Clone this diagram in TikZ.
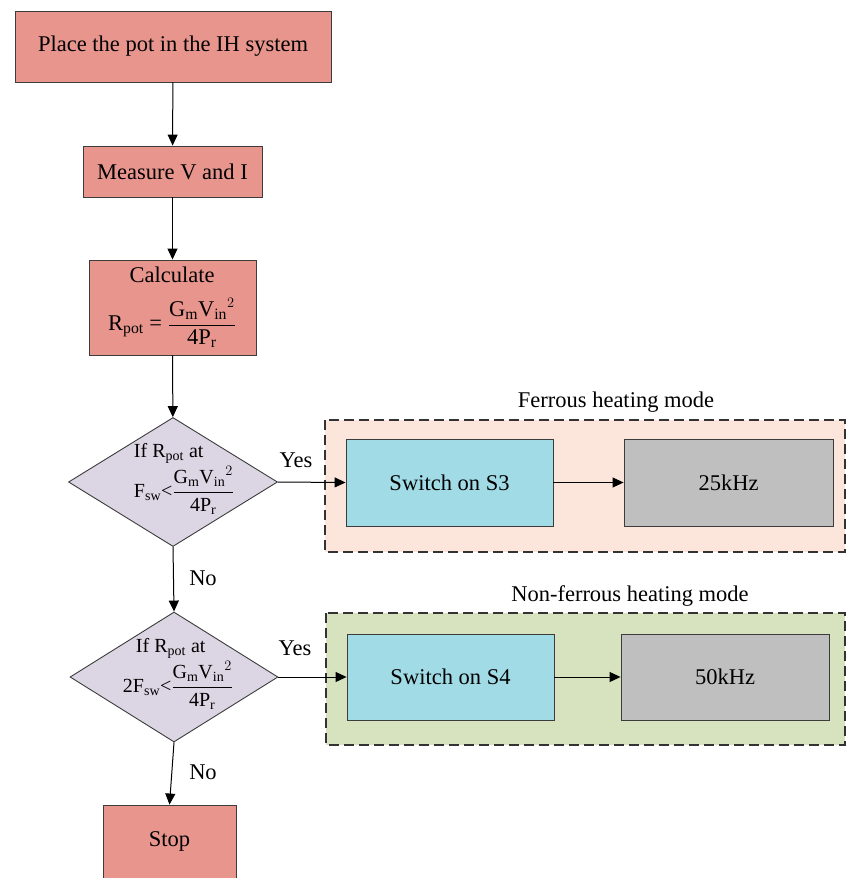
\documentclass[tikz,border=0pt]{standalone}
\usepackage{fontspec}
\setmainfont{Liberation Serif}
\newfontfamily\tnr{Liberation Serif}
\usetikzlibrary{arrows.meta,shapes.geometric}
\definecolor{salmonc}{RGB}{232,149,142}
\definecolor{lavc}{RGB}{220,214,228}
\definecolor{cyanc}{RGB}{161,219,230}
\definecolor{grayc}{RGB}{191,191,191}
\definecolor{peachc}{RGB}{252,229,219}
\definecolor{sagec}{RGB}{214,227,190}
\definecolor{edgec}{RGB}{60,60,60}
\tikzset{
  txt/.style={font={\tnr\fontsize{22.5}{26}\selectfont}},
  dtxt/.style={font={\tnr\fontsize{20}{23}\selectfont}},
  procbox/.style={rectangle, draw=edgec, line width=0.9pt, fill=salmonc, inner sep=0pt, txt},
  decbox/.style={diamond, draw=edgec, line width=0.9pt, fill=lavc, inner sep=0pt},
  swbox/.style={rectangle, draw=edgec, line width=0.9pt, fill=cyanc, inner sep=0pt, minimum width=207pt, minimum height=87pt, txt},
  frbox/.style={rectangle, draw=edgec, line width=0.9pt, fill=grayc, inner sep=0pt, minimum width=209pt, minimum height=87pt, txt},
  frame/.style={draw=black!80, dash pattern=on 10pt off 5pt, line width=1.6pt},
  conn/.style={draw=black, line width=1pt, -{Triangle[length=11pt,width=10pt]}},
  lbl/.style={txt, inner sep=0pt}
}
\begin{document}
\begin{tikzpicture}[x=1pt,y=-1pt]
\useasboundingbox (0,0) rectangle (847,878);
% frames
\draw[frame, fill=peachc] (325,420) rectangle (845,552);
\draw[frame, fill=sagec] (326,613) rectangle (845,745);
\node[lbl] (t1) at (616,402) {Ferrous heating mode};
\node[lbl] (t2) at (630,596) {Non-ferrous heating mode};
% main column
\node[procbox, minimum width=316pt, minimum height=71pt] (p1) at (173,46.5) {Place the pot in the IH system};
\node[procbox, minimum width=179pt, minimum height=51pt] (p2) at (172.5,171.5) {Measure V and I};
\node[procbox, minimum width=167pt, minimum height=95pt] (p3) at (172.5,307.5) {};
\node[lbl] (p3a) at (172,275) {Calculate};
\node[lbl] (p3b) at (172,323) {R\textsubscript{pot} = $\displaystyle\frac{\mathrm{G_mV_{in}}^{2}}{\mathrm{4P_r}}$};
\node[decbox, minimum width=209pt, minimum height=129pt] (d1) at (173,482) {};
\node[lbl, align=left, dtxt] (d1t) at (184,479) {If R\textsubscript{pot} at\\[2pt]F\textsubscript{sw}<$\displaystyle\frac{\mathrm{G_mV_{in}}^{2}}{\mathrm{4P_r}}$};
\node[decbox, minimum width=208pt, minimum height=130pt] (d2) at (174,677) {};
\node[lbl, align=left, dtxt] (d2t) at (178,674) {\hspace*{13pt}If R\textsubscript{pot} at\\[2pt]2F\textsubscript{sw}<$\displaystyle\frac{\mathrm{G_mV_{in}}^{2}}{\mathrm{4P_r}}$};
\node[procbox, minimum width=133pt, minimum height=73pt] (stop) at (169.5,841.5) {Stop};
% right side
\node[swbox] (s3) at (449.5,482.5) {Switch on S3};
\node[frbox] (k25) at (728.5,482.5) {25kHz};
\node[swbox, minimum height=86pt] (s4) at (450.5,677) {Switch on S4};
\node[frbox, minimum width=208pt, minimum height=86pt] (k50) at (725,677) {50kHz};
% connectors
\draw[conn] (p1) -- (p2);
\draw[conn] (p2) -- (p3);
\draw[conn] (p3) -- (d1);
\draw[conn] (d1.south) -- (d2.north);
\draw[conn] (d2.south) -- (stop.north);
\draw[conn] (d1.east) -- (s3.west);
\draw[conn] (s3) -- (k25);
\draw[conn] (d2.east) -- (s4.west);
\draw[conn] (s4) -- (k50);
% labels
\node[lbl] (y1) at (296,460) {Yes};
\node[lbl] (y2) at (295,648) {Yes};
\node[lbl] (n1) at (203,578) {No};
\node[lbl] (n2) at (203,772) {No};
\end{tikzpicture}
\end{document}
